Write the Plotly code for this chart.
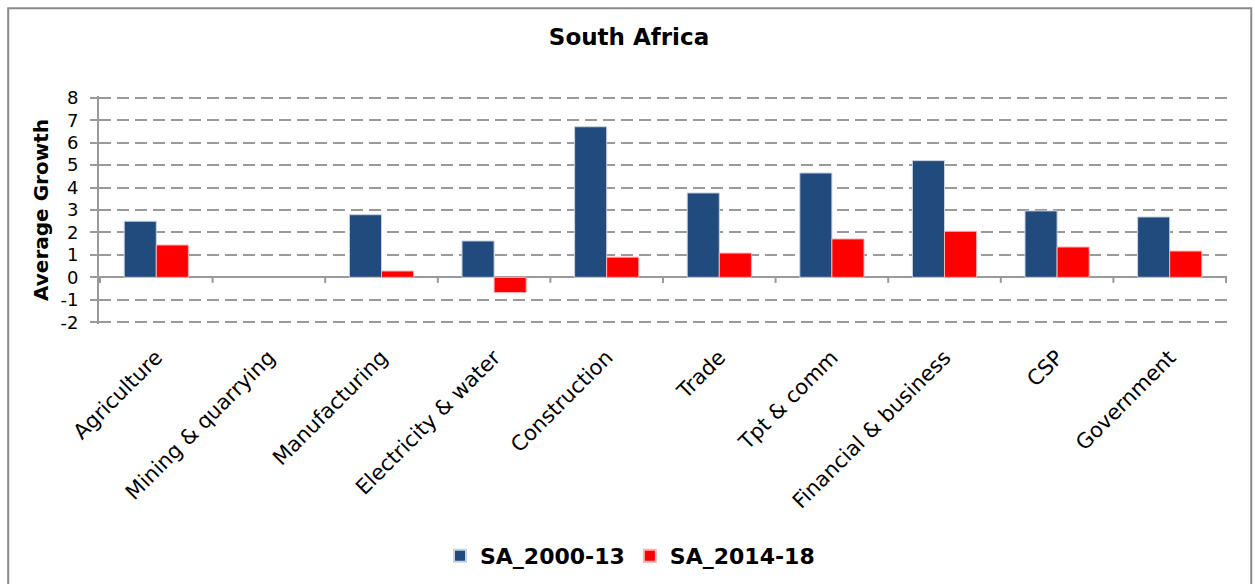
import plotly.graph_objects as go

categories = ["Agriculture", "Mining & quarrying", "Manufacturing", "Electricity & water",
              "Construction", "Trade", "Tpt & comm", "Financial & business", "CSP", "Government"]
sa_2000_13 = [2.5, None, 2.79, 1.62, 6.71, 3.76, 4.65, 5.2, 2.96, 2.69]
sa_2014_18 = [1.44, None, 0.28, -0.68, 0.9, 1.08, 1.71, 2.05, 1.35, 1.17]
y_ticks = [-2, -1, 0, 1, 2, 3, 4, 5, 6, 7, 8]
y_tick_text = ["-2", "-1", "0", "1", "2", "3", "4", "5", "6", "7", "8"]

FONT = "DejaVu Sans, Verdana, sans-serif"
GRID = "#9a9a9a"

fig = go.Figure()
fig.add_trace(go.Bar(x=categories, y=sa_2000_13, name="<b>SA_2000-13</b>",
                     marker=dict(color="#214A7D", line=dict(color="#c8d2e0", width=1))))
fig.add_trace(go.Bar(x=categories, y=sa_2014_18, name="<b>SA_2014-18</b>",
                     marker=dict(color="#FF0000", line=dict(color="#ffb0b0", width=1))))

# small tick marks on the zero line at category boundaries
for i in range(len(categories) + 1):
    fig.add_shape(type="line", xref="x", yref="y", x0=i - 0.5, x1=i - 0.5, y0=0, y1=-0.25,
                  line=dict(color=GRID, width=2), layer="below")

# outer chart border
fig.add_shape(type="rect", xref="paper", yref="paper", x0=-0.0805, x1=1.0215, y0=-1.2, y1=1.385,
              line=dict(color="#8a8a8a", width=2), layer="below")

fig.update_layout(
    width=1255, height=584,
    margin=dict(l=99, r=28, t=96, b=260),
    paper_bgcolor="white", plot_bgcolor="white",
    barmode="group", bargap=0.43, bargroupgap=0.0,
    font=dict(family=FONT, size=14, color="#000000"),
    title=dict(text="<b>South Africa</b>", x=629 / 1255, xanchor="center", xref="container",
               y=1 - 37 / 584, yanchor="middle", yref="container",
               font=dict(family=FONT, size=23, color="#000000")),
    legend=dict(orientation="h", x=630 / 1255, xanchor="center", xref="container",
                y=1 - 556 / 584, yanchor="middle", yref="container",
                font=dict(family=FONT, size=22, color="#000000"),
                itemsizing="constant", itemwidth=30, traceorder="normal"),
    showlegend=True,
)
fig.update_xaxes(type="category", tickangle=-45, showgrid=False, showline=False, ticks="",
                 tickfont=dict(family=FONT, size=21, color="#000000"), ticklabelstandoff=16)
fig.update_yaxes(range=[-2.08, 8.08], tickvals=y_ticks, ticktext=y_tick_text,
                 showgrid=True, gridcolor=GRID, gridwidth=2,
                 griddash="12px,6px", zeroline=True, zerolinecolor=GRID, zerolinewidth=2,
                 showline=True, linecolor=GRID, linewidth=2, ticks="outside", ticklen=7,
                 tickcolor=GRID, tickwidth=2, ticklabelstandoff=8,
                 tickfont=dict(family=FONT, size=18, color="#000000"),
                 title=dict(text="<b>Average Growth</b>", font=dict(family=FONT, size=20, color="#000000"),
                            standoff=6))

fig.write_html("out.html")
